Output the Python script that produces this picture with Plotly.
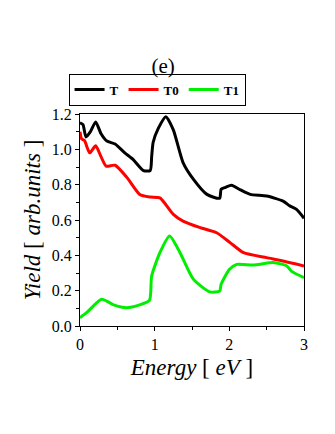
import plotly.graph_objects as go

# energy (eV) and yields
e_T = [0.0, 0.04, 0.08, 0.14, 0.21, 0.28, 0.36, 0.47, 0.6, 0.71, 0.85, 0.94, 0.96, 0.98, 1.05, 1.15,
       1.25, 1.38, 1.52, 1.70, 1.87, 1.89, 1.95, 2.03, 2.15, 2.28, 2.5, 2.72, 2.81, 2.9, 3.0]
y_T = [1.15, 1.14, 1.07, 1.1, 1.155, 1.09, 1.047, 1.03, 0.98, 0.943, 0.88, 0.88, 0.96, 1.04, 1.12, 1.185,
       1.11, 0.925, 0.83, 0.745, 0.723, 0.774, 0.785, 0.796, 0.77, 0.745, 0.736, 0.707, 0.68, 0.66, 0.61]

e_T0 = [0.0, 0.02, 0.06, 0.13, 0.21, 0.28, 0.35, 0.47, 0.63, 0.8, 0.94, 1.07, 1.25, 1.38, 1.61,
        1.83, 2.01, 2.19, 2.5, 2.72, 3.0]
y_T0 = [1.1, 1.06, 1.05, 0.98, 1.02, 0.96, 0.905, 0.91, 0.84, 0.745, 0.73, 0.725, 0.632, 0.594, 0.557,
        0.528, 0.472, 0.415, 0.387, 0.368, 0.34]

e_T1 = [0.0, 0.1, 0.29, 0.45, 0.62, 0.8, 0.93, 0.96, 1.07, 1.2, 1.34, 1.52, 1.74, 1.87, 1.89,
        2.0, 2.1, 2.32, 2.59, 2.77, 2.83, 3.0]
y_T1 = [0.047, 0.08, 0.151, 0.12, 0.104, 0.12, 0.145, 0.283, 0.415, 0.51, 0.415, 0.264, 0.193, 0.198, 0.236,
        0.32, 0.349, 0.345, 0.359, 0.34, 0.311, 0.274]

SERIF = "Liberation Serif"

fig = go.Figure()
for x, y, name, col in [(e_T, y_T, "T", "black"), (e_T0, y_T0, "T0", "#ff0000"), (e_T1, y_T1, "T1", "#00ee00")]:
    fig.add_trace(go.Scatter(x=x, y=y, name=name, mode="lines",
                             line=dict(color=col, width=3, shape="spline", smoothing=0.6)))

tfont = dict(family=SERIF, size=16, color="black")
fig.update_layout(
    width=335, height=434,
    margin=dict(l=72, r=39, t=106, b=116, autoexpand=False),
    paper_bgcolor="white", plot_bgcolor="white",
    font=dict(family=SERIF, color="black"),
    title=dict(text="(e)", x=0.463, xanchor="center", y=0.868, yanchor="middle",
               font=dict(family=SERIF, size=21, color="black")),
    legend=dict(orientation="h", x=0.344, xanchor="center", y=1.04, yanchor="bottom",
                bordercolor="black", borderwidth=1, bgcolor="white",
                font=dict(family=SERIF, size=13, color="black", weight="bold"),
                itemwidth=30, tracegroupgap=0),
    showlegend=True,
)
fig.update_xaxes(range=[0, 3], tickvals=[0, 1, 2, 3], ticks="outside", ticklen=4, tickcolor="black",
                 minor=dict(tickvals=[0.5, 1.5, 2.5], ticks="outside", ticklen=3, tickcolor="black"),
                 showline=True, linecolor="black", linewidth=1, mirror=True, showgrid=False, zeroline=False,
                 tickfont=tfont, automargin=False,
                 title=dict(text="<i>Energy</i> [ <i>eV</i> ]", standoff=6,
                            font=dict(family=SERIF, size=23, color="black")))
fig.update_yaxes(range=[0, 1.2], tickvals=[0, 0.2, 0.4, 0.6, 0.8, 1.0, 1.2], tickformat=".1f",
                 ticks="outside", ticklen=4, tickcolor="black",
                 minor=dict(tickvals=[0.1, 0.3, 0.5, 0.7, 0.9, 1.1], ticks="outside", ticklen=3, tickcolor="black"),
                 showline=True, linecolor="black", linewidth=1, mirror=True, showgrid=False, zeroline=False,
                 tickfont=tfont, automargin=False,
                 title=dict(text="<i>Yield</i> [ <i>arb.units</i> ]", standoff=4,
                            font=dict(family=SERIF, size=23, color="black")))

fig.write_html("out.html")
